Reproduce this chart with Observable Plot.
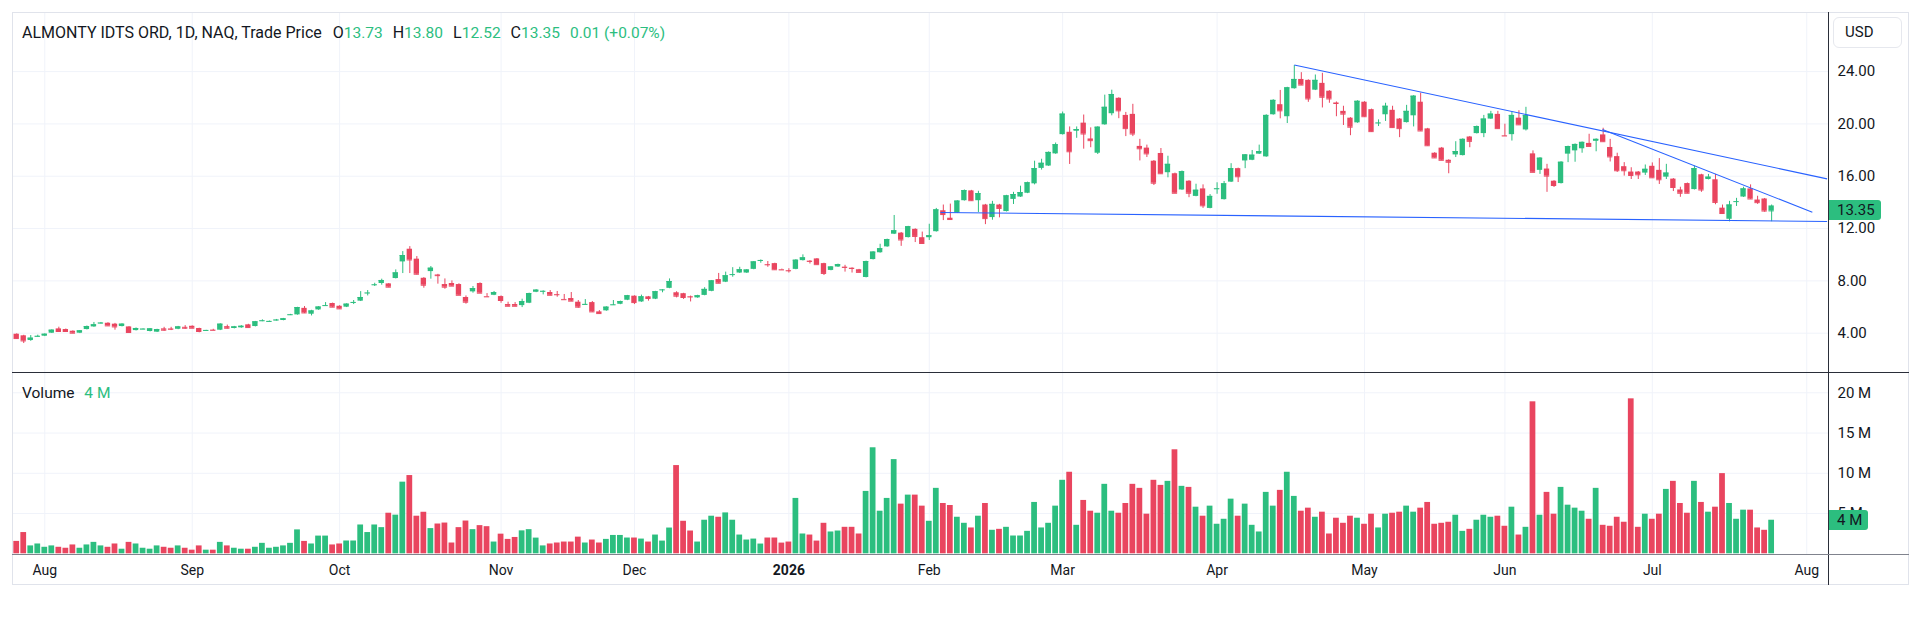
<!DOCTYPE html>
<html><head><meta charset="utf-8">
<script src="https://cdn.jsdelivr.net/npm/d3@7"></script>
<script src="https://cdn.jsdelivr.net/npm/@observablehq/plot@0.6"></script>
<style>
html,body{margin:0;padding:0;background:#fff;}
#wrap{position:relative;width:1920px;height:626px;overflow:hidden;font-family:Roboto,"Noto Sans",sans-serif;color:#131722;}
.abs{position:absolute;}
#frame{left:12px;top:12px;width:1897px;height:573px;border:1px solid #e0e3eb;box-sizing:border-box;}
#sep{left:12px;top:371.5px;width:1897px;height:1px;background:#2a2e39;}
#divider{left:1828px;top:12px;width:1px;height:573px;background:#2a2e39;}
#baseline{left:12px;top:553.5px;width:1897px;height:1.5px;background:#80838d;}
#header{left:22px;top:23px;font-size:16px;line-height:20px;white-space:nowrap;}
#header span{margin-right:10px;}
#header span:first-child{margin-right:11px;}
#header .g{color:#2cbe7f;}
#header .num{font-size:15.5px;}
#vlegend{left:22px;top:384px;font-size:15.5px;line-height:18px;white-space:nowrap;}
#usd{left:1833px;top:17px;width:69px;height:31px;border:1px solid #e6e8ee;border-radius:6px;box-sizing:border-box;font-size:15px;line-height:29px;padding-left:11px;}
.tag{left:1829px;height:20px;line-height:20px;font-size:15px;padding-left:8px;padding-right:6px;background:#2cbe7f;color:#131722;border-radius:0 3px 3px 0;box-sizing:border-box;}
</style>
</head><body>
<div id="wrap"></div>
<script>
// ---- data ----
const open = [
3.92,3.80,3.44,3.73,3.77,4.00,4.33,4.28,4.15,4.00,
4.28,4.48,4.74,4.76,4.69,4.51,4.48,4.20,4.29,4.13,
4.08,4.33,4.33,4.30,4.45,4.53,4.36,4.19,4.24,4.23,
4.50,4.36,4.41,4.64,4.51,4.92,4.87,4.97,4.97,5.38,
5.40,5.90,5.45,5.78,6.08,6.27,6.06,5.99,6.33,6.45,
7.05,7.68,7.80,7.77,8.18,9.45,10.42,9.66,8.20,8.71,
8.45,7.72,7.80,7.72,6.73,7.16,7.80,6.80,6.90,6.80,
6.19,6.19,6.11,6.29,7.13,7.18,7.11,6.96,6.58,6.65,
6.37,6.18,6.34,5.63,5.71,6.15,6.21,6.52,6.83,6.39,
6.78,6.60,7.29,7.43,7.09,7.02,6.80,6.70,6.89,7.20,
8.10,7.90,8.46,8.60,8.60,8.88,9.53,9.25,9.32,8.86,
8.79,8.88,9.55,9.51,9.68,9.32,8.80,9.06,9.05,8.97,
8.85,8.26,9.63,10.15,10.60,11.57,11.65,11.31,11.94,11.30,
11.30,11.76,13.36,12.79,13.18,14.13,14.88,14.13,13.80,12.84,
13.80,13.30,14.23,14.41,14.70,15.42,16.60,16.78,17.71,19.18,
19.36,19.44,20.06,18.85,17.76,19.93,20.78,21.96,20.65,20.73,
18.28,18.15,17.15,17.74,16.27,16.19,14.95,15.62,14.46,15.03,
13.54,15.01,14.21,15.55,16.58,17.17,17.22,17.69,17.48,20.70,
21.47,20.55,22.69,23.40,23.33,22.58,23.10,22.50,21.60,20.96,
20.44,20.08,21.66,21.09,20.05,20.70,21.04,20.37,20.10,20.62,
21.66,19.62,17.76,18.15,17.22,17.63,17.58,19.00,19.26,19.26,
20.37,20.73,19.10,19.18,20.44,19.54,17.71,16.45,16.55,15.62,
15.44,17.69,17.94,18.10,18.51,18.67,19.16,18.20,17.50,16.73,
16.32,16.32,16.24,16.76,16.45,15.93,15.78,14.95,15.44,14.98,
16.11,15.75,15.73,13.56,12.71,14.04,14.41,15.03,14.18,14.26,13.73];
const high = [
3.95,3.84,3.82,3.85,3.95,4.26,4.46,4.32,4.18,4.20,
4.55,4.82,4.82,4.80,4.75,4.72,4.50,4.40,4.33,4.36,
4.30,4.45,4.45,4.52,4.58,4.56,4.38,4.22,4.30,4.72,
4.62,4.52,4.58,4.68,4.90,5.02,4.93,5.05,5.13,5.44,
5.98,6.04,5.75,6.03,6.34,6.30,6.10,6.25,6.50,7.18,
7.26,7.82,8.13,7.80,8.84,10.24,10.62,9.86,8.25,9.10,
8.50,8.15,8.00,7.78,6.85,7.57,7.85,7.03,7.19,6.85,
6.37,6.34,6.60,7.06,7.33,7.24,7.26,7.19,6.96,7.11,
6.50,6.57,6.42,5.73,6.02,6.50,6.45,6.89,6.86,6.91,
6.81,7.20,7.33,8.15,7.17,7.05,6.84,6.90,7.48,8.03,
8.57,8.67,9.01,9.04,8.86,9.48,9.60,9.48,9.35,8.90,
8.93,9.62,9.99,9.55,9.71,9.35,9.09,9.28,9.19,9.00,
8.88,9.51,10.23,10.80,11.19,13.00,11.70,12.17,11.98,11.73,
12.33,13.54,13.80,13.87,14.13,14.95,14.92,14.85,13.85,14.08,
13.85,14.54,14.77,15.24,15.55,17.15,17.30,17.86,18.54,20.91,
19.77,19.77,20.68,19.70,19.78,22.20,22.58,22.00,20.88,21.50,
18.82,18.38,17.20,18.12,17.53,16.24,16.40,15.66,15.39,15.34,
14.60,15.50,15.60,16.96,16.62,17.66,17.97,18.38,20.70,21.85,
22.56,22.80,24.46,23.92,23.37,23.74,23.87,22.54,21.68,21.35,
20.48,21.77,21.70,21.13,20.31,21.58,21.35,20.41,21.42,22.16,
22.35,19.66,17.80,18.20,17.26,18.64,18.86,19.04,19.84,20.65,
20.96,20.96,19.98,20.91,21.01,21.27,17.94,17.42,16.91,15.66,
17.11,18.30,18.47,18.62,19.21,18.86,19.67,18.82,17.76,17.04,
16.65,16.36,16.86,17.02,17.35,16.91,15.82,15.16,15.48,16.78,
16.15,16.14,16.14,13.80,14.08,14.31,15.16,15.34,14.47,14.30,13.80];
const low = [
3.55,3.21,3.38,3.70,3.74,3.98,4.10,4.10,3.97,3.97,
4.25,4.45,4.70,4.54,4.23,4.48,4.02,4.17,4.27,4.10,
4.05,4.15,4.20,4.27,4.30,4.35,4.03,4.17,4.20,4.20,
4.33,4.33,4.38,4.40,4.48,4.88,4.84,4.93,4.95,5.35,
5.38,5.50,5.32,5.75,6.05,5.96,5.83,5.96,6.19,6.42,
6.85,7.57,7.67,7.48,8.15,8.56,8.56,8.45,7.44,8.13,
7.75,7.36,7.57,6.88,6.22,7.06,7.03,6.76,6.87,6.29,
6.03,6.03,5.96,6.26,7.10,6.93,6.87,6.75,6.55,6.42,
5.91,6.15,5.60,5.47,5.68,6.12,6.18,6.49,6.19,6.36,
6.45,6.57,7.09,7.40,6.70,6.58,6.39,6.67,6.86,7.17,
7.79,7.87,8.28,8.57,8.57,8.85,9.35,9.04,8.82,8.82,
8.60,8.85,9.52,9.29,9.21,8.41,8.77,9.03,8.67,8.60,
8.62,8.23,9.60,10.12,10.57,11.54,10.64,11.28,10.93,10.84,
11.09,11.73,12.61,12.66,13.15,14.10,14.10,13.23,12.30,12.64,
12.82,13.27,13.84,14.38,14.67,15.34,16.47,16.75,17.68,19.15,
16.90,18.90,18.07,18.18,17.66,19.90,20.62,20.40,19.03,19.03,
17.17,17.43,15.29,16.16,15.88,14.67,14.92,14.36,14.43,13.54,
13.51,14.62,14.18,15.52,15.52,16.58,17.19,17.66,17.45,20.67,
20.39,20.03,22.66,22.94,21.65,22.55,21.22,21.58,20.55,19.88,
19.10,20.05,20.52,19.38,19.80,20.19,19.69,18.95,20.07,19.77,
19.43,18.30,17.37,17.19,16.19,17.43,17.55,18.18,19.23,18.95,
20.34,19.61,19.05,18.69,19.90,19.46,16.27,16.14,14.77,15.14,
15.41,17.04,17.07,17.76,18.25,17.87,18.61,17.09,16.29,16.01,
15.75,15.75,16.06,15.85,15.37,15.75,14.83,14.39,14.67,14.95,
14.77,15.72,13.82,13.12,12.51,13.69,14.38,14.23,13.85,13.25,12.52];
const close = [
3.59,3.41,3.62,3.76,3.92,4.23,4.13,4.13,4.00,4.18,
4.51,4.64,4.77,4.56,4.48,4.69,4.05,4.36,4.31,4.33,
4.28,4.23,4.30,4.48,4.38,4.38,4.13,4.21,4.22,4.69,
4.38,4.48,4.53,4.43,4.87,4.95,4.90,5.00,5.10,5.41,
5.96,5.55,5.70,6.00,6.11,5.99,5.86,6.22,6.35,6.73,
7.07,7.70,8.03,7.52,8.61,9.94,9.60,8.51,7.67,8.97,
8.40,7.52,7.60,6.90,6.37,7.41,7.06,6.78,7.10,6.50,
6.06,6.06,6.42,7.03,7.29,7.20,6.90,6.94,6.56,6.45,
5.99,6.20,5.63,5.50,5.99,6.17,6.42,6.86,6.34,6.78,
6.65,7.17,7.31,7.95,6.83,6.73,6.77,6.86,7.35,8.00,
7.82,8.39,8.48,8.85,8.83,9.45,9.56,9.23,8.85,8.84,
8.77,9.58,9.76,9.49,9.24,8.57,9.06,9.24,9.03,8.95,
8.65,9.48,10.20,10.46,11.16,11.83,11.13,12.14,11.40,10.86,
11.45,13.43,13.07,12.69,14.10,14.90,14.13,14.67,12.76,13.85,
13.54,14.50,14.60,14.75,15.50,16.58,16.99,17.82,18.41,20.75,
17.87,19.57,19.23,18.72,19.75,21.27,22.25,21.00,19.64,19.23,
18.10,17.71,15.47,16.19,16.91,14.70,16.35,14.70,14.93,13.74,
14.46,15.04,15.42,16.58,15.96,17.63,17.61,17.89,20.65,21.80,
21.00,22.76,23.40,22.97,21.91,23.33,22.04,21.91,21.56,20.75,
19.75,21.73,20.55,19.41,20.07,21.35,19.72,19.64,20.96,22.12,
19.46,18.33,17.40,17.22,17.07,17.89,18.82,18.67,19.80,20.37,
20.75,19.64,19.08,20.65,19.93,20.65,16.30,17.38,16.01,15.29,
17.07,18.27,18.43,18.59,18.28,18.82,18.64,17.48,16.42,16.42,
16.06,16.11,16.53,15.88,15.73,16.24,15.14,14.70,14.70,16.58,
14.95,15.93,14.00,13.15,13.80,14.06,15.03,14.26,13.98,13.34,13.35];
// volume in millions
const volume = [
1.54,2.64,0.98,1.22,0.81,0.98,0.81,0.69,1.10,0.69,
1.10,1.42,0.98,0.81,1.22,0.57,1.42,1.22,0.69,0.57,
0.98,0.81,0.69,0.98,0.69,0.45,0.98,0.45,0.45,1.42,
0.98,0.69,0.57,0.57,0.81,1.30,0.69,0.81,0.98,1.30,
2.97,1.54,1.22,2.20,2.20,1.10,1.22,1.59,1.59,3.58,
2.64,3.58,3.25,5.04,4.80,8.90,9.72,4.67,5.16,3.13,
3.70,3.82,1.34,3.25,4.07,3.00,3.50,3.37,1.46,2.44,
1.79,2.03,2.85,3.00,1.95,0.98,1.22,1.34,1.46,1.46,
2.07,1.34,1.71,1.34,1.79,2.28,2.28,1.96,1.96,1.83,
1.46,2.33,1.58,3.20,10.96,4.04,2.83,1.46,4.17,4.67,
4.54,5.08,4.17,2.33,1.71,1.83,1.21,1.96,1.96,1.33,
1.46,6.88,2.46,2.33,1.58,3.79,2.71,2.83,3.29,3.29,
2.46,7.75,13.17,5.29,6.88,11.70,6.17,7.29,7.29,5.92,
4.04,8.13,6.25,6.00,4.54,3.79,3.21,4.67,6.25,2.92,
3.04,3.29,2.21,2.21,2.79,6.38,3.21,3.79,5.92,9.13,
10.13,3.54,6.63,5.29,5.04,8.63,5.29,5.04,6.25,8.63,
8.13,4.92,9.13,8.50,9.00,12.92,8.38,8.25,5.79,4.67,
5.92,3.67,4.29,6.79,4.67,6.17,3.54,2.71,7.63,5.92,
7.88,10.13,7.13,5.29,5.67,4.54,5.17,2.46,4.42,3.79,
4.67,4.42,3.67,4.92,3.21,4.92,5.04,5.17,5.92,5.17,
5.67,6.38,3.67,3.79,3.92,4.79,2.79,3.04,4.17,4.79,
4.54,4.67,3.42,5.79,2.33,3.29,18.88,4.79,7.63,4.92,
8.25,6.04,5.67,5.29,4.29,8.13,3.54,3.42,4.54,3.92,
19.25,3.29,4.92,4.29,4.92,8.00,9.00,6.25,5.04,9.00,
6.38,5.17,5.79,9.96,6.25,4.29,5.42,5.42,3.21,2.92,4.17];
// time axis: bar index of the first session of each month, and its label
const monthIndex  = [4, 25, 46, 69, 88, 110, 130, 149, 171, 192, 212, 233, 255];
const monthLabels = ["Aug","Sep","Oct","Nov","Dec","2026","Feb","Mar","Apr","May","Jun","Jul","Aug"];
const priceTicks = [4, 8, 12, 16, 20, 24];
const volumeTicks = [5, 10, 15, 20];
// drawn trend lines (bar index, price)
const trendX1 = [182, 225.9, 131.6];
const trendY1 = [24.5, 19.57, 13.23];
const trendX2 = [257.9, 255.8, 257.9];
const trendY2 = [15.8, 13.25, 12.54];

// ---- chart ----
const UP = "#2cbe7f", DOWN = "#e9455f", GRID = "#f0f3fa", INK = "#131722";
const n = close.length, last = n - 1;
const bars = close.map((c, i) => {
  // latest bar is coloured by its change vs. previous close, as the legend shows
  const up = i === last ? c >= close[i - 1] : c >= open[i];
  return {i, o: open[i], h: high[i], l: low[i], c, v: volume[i],
    lo: Math.min(open[i], c), hi: Math.max(open[i], c), color: up ? UP : DOWN};
});
const trend = trendX1.map((x1, k) => ({x1, y1: trendY1[k], x2: trendX2[k], y2: trendY2[k]}));
const labelOf = i => monthLabels[monthIndex.indexOf(i)];
const boldIdx = monthIndex.filter(i => /^\d{4}$/.test(labelOf(i)));
const normIdx = monthIndex.filter(i => !boldIdx.includes(i));

const xScale = {type: "linear", domain: [-0.6, 258.1], range: [12, 1828], axis: null};
const common = {width: 1920, marginLeft: 12, marginRight: 92, color: {type: "identity"},
  style: {fontFamily: "Roboto, 'Noto Sans', sans-serif", color: INK, background: "transparent", overflow: "visible"}};

const pricePlot = Plot.plot({
  ...common, height: 360, marginTop: 0, marginBottom: 0,
  x: xScale,
  y: {type: "linear", domain: [4, 24], range: [320.7, 59.1], axis: null},
  marks: [
    Plot.gridY(priceTicks, {stroke: GRID, strokeOpacity: 1}),
    Plot.gridX(monthIndex, {stroke: GRID, strokeOpacity: 1}),
    Plot.ruleX(bars, {x: "i", y1: "l", y2: "h", stroke: "color", strokeWidth: 1}),
    Plot.rect(bars, {x1: d => d.i - 0.38, x2: d => d.i + 0.38, y1: "lo", y2: "hi", fill: "color"}),
    Plot.ruleY(bars, {y: "c", x1: d => d.i - 0.38, x2: d => d.i + 0.38, stroke: "color", strokeWidth: 1}),
    Plot.link(trend, {x1: "x1", y1: "y1", x2: "x2", y2: "y2", stroke: "#2962ff", strokeWidth: 1.1}),
    Plot.axisY(priceTicks, {anchor: "right", tickSize: 0, tickPadding: 9, tickFormat: d3.format(".2f"), fontSize: 15, fill: INK, label: null})
  ]
});

const volPlot = Plot.plot({
  ...common, height: 213, marginTop: 0, marginBottom: 30,
  x: xScale,
  y: {type: "linear", domain: [0, 20], range: [181.3, 20.3], axis: null},
  marks: [
    Plot.gridY(volumeTicks, {stroke: GRID, strokeOpacity: 1}),
    Plot.gridX(monthIndex, {stroke: GRID, strokeOpacity: 1}),
    Plot.rect(bars, {x1: d => d.i - 0.41, x2: d => d.i + 0.41, y1: 0, y2: "v", fill: "color"}),
    Plot.axisY(volumeTicks, {anchor: "right", tickSize: 0, tickPadding: 9, tickFormat: d => `${d} M`, fontSize: 15, fill: INK, label: null}),
    Plot.axisX(normIdx, {anchor: "bottom", tickSize: 0, tickPadding: 10, tickFormat: labelOf, fontSize: 14, fill: INK, label: null}),
    Plot.axisX(boldIdx, {anchor: "bottom", tickSize: 0, tickPadding: 10, tickFormat: labelOf, fontSize: 14, fontWeight: "bold", fill: INK, label: null})
  ]
});

const wrap = document.getElementById("wrap");
function box(id, cls, top, left) {
  const d = document.createElement("div");
  if (id) d.id = id;
  d.className = "abs " + (cls || "");
  if (top != null) d.style.top = top + "px";
  if (left != null) d.style.left = left + "px";
  wrap.appendChild(d);
  return d;
}
const pDiv = box(null, "", 12, 0); pDiv.appendChild(pricePlot);
const vDiv = box(null, "", 372, 0); vDiv.appendChild(volPlot);
box("frame"); box("sep"); box("divider"); box("baseline");

const fmt = d3.format(".2f");
const lb = bars[last];
const chg = lb.c - close[last - 1];
const hdr = box("header");
hdr.innerHTML =
  `<span>ALMONTY IDTS ORD, 1D, NAQ, Trade Price</span>` +
  `<span>O<b class="g num" style="font-weight:400">${fmt(lb.o)}</b></span>` +
  `<span>H<b class="g num" style="font-weight:400">${fmt(lb.h)}</b></span>` +
  `<span>L<b class="g num" style="font-weight:400">${fmt(lb.l)}</b></span>` +
  `<span>C<b class="g num" style="font-weight:400">${fmt(lb.c)}</b></span>` +
  `<span class="g num">${fmt(chg)} (${chg >= 0 ? "+" : ""}${fmt(chg / close[last - 1] * 100)}%)</span>`;

const vl = box("vlegend");
vl.innerHTML = `Volume <span style="color:${lb.color};margin-left:6px">${Math.round(lb.v)} M</span>`;

const usd = box("usd"); usd.textContent = "USD";

const py = pricePlot.scale("y").apply(lb.c);
const pTag = box(null, "tag", 12 + py - 10);
pTag.style.background = lb.color; pTag.textContent = fmt(lb.c);

const vy = volPlot.scale("y").apply(lb.v);
const vTag = box(null, "tag", 372 + vy - 10);
vTag.style.background = lb.color; vTag.textContent = `${Math.round(lb.v)} M`;
</script>
</body></html>
